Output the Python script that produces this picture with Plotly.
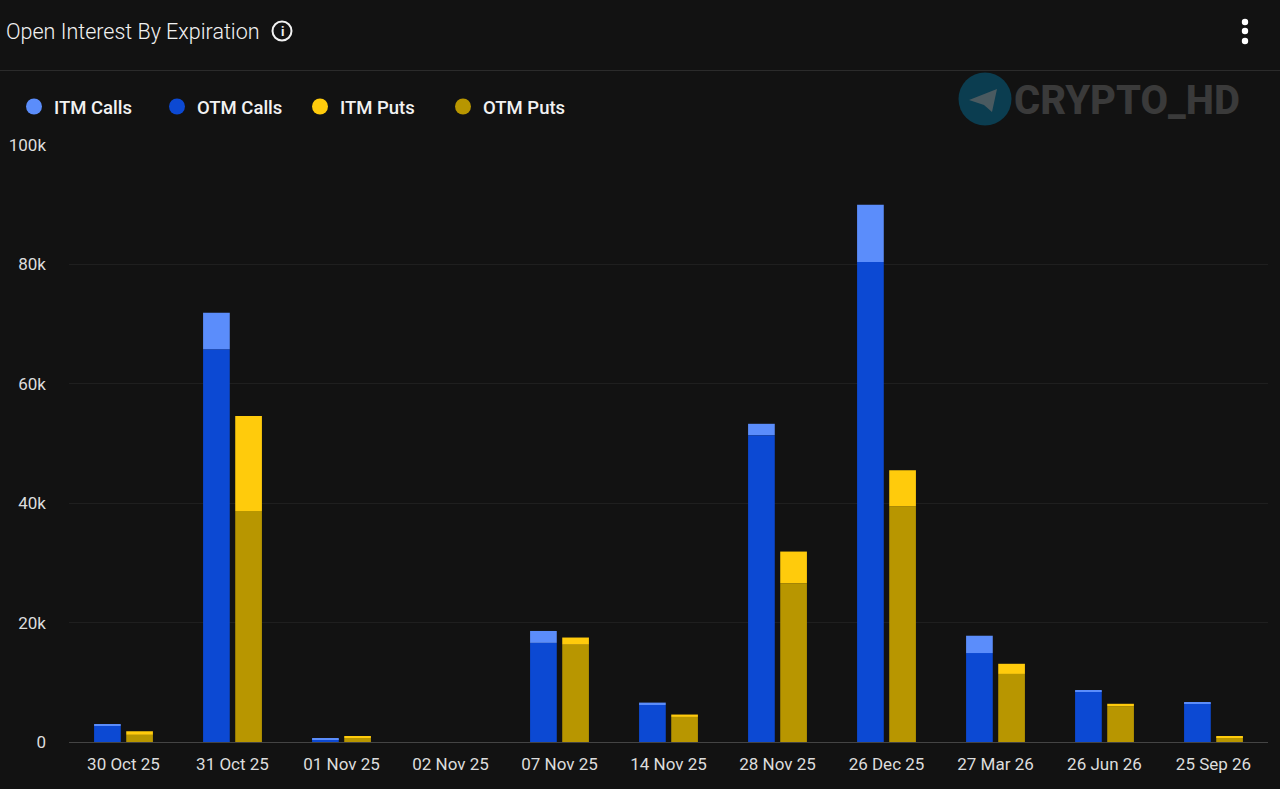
import plotly.graph_objects as go

W, H = 1280, 789
L, R, T, B = 69, 1268, 145, 742

expiries = ["30 Oct 25", "31 Oct 25", "01 Nov 25", "02 Nov 25", "07 Nov 25", "14 Nov 25",
            "28 Nov 25", "26 Dec 25", "27 Mar 26", "26 Jun 26", "25 Sep 26"]
otm_calls = [2700, 65800, 500, 0, 16600, 6200, 51400, 80400, 14900, 8500, 6500]
itm_calls = [300, 6100, 100, 0, 2000, 400, 1900, 9600, 2900, 200, 50]
otm_puts = [1200, 38700, 700, 0, 16300, 4200, 26600, 39500, 11400, 6000, 800]
itm_puts = [600, 15900, 300, 0, 1200, 400, 5300, 6000, 1700, 400, 200]

C_ITM_CALL = "#5b8dfb"
C_OTM_CALL = "#0c49d3"
C_ITM_PUT = "#ffcb0c"
C_OTM_PUT = "#b89600"
BG = "#121212"


# pixel position on the page -> paper coordinates
def px(x):
    return (x - L) / (R - L)


def py(y):
    return (B - y) / (B - T)


def circle(cx, cy, r, **kw):
    return dict(type="circle", xref="paper", yref="paper", x0=px(cx - r), x1=px(cx + r),
                y0=py(cy + r), y1=py(cy - r), **kw)


def label(x, y, text, size, color, weight=400, family="Roboto", anchor="left"):
    return dict(xref="paper", yref="paper", x=px(x), y=py(y), text=text, showarrow=False,
                xanchor=anchor, yanchor="middle",
                font=dict(family=family, size=size, color=color, weight=weight))


fig = go.Figure()

bars = [
    ("OTM Calls", otm_calls, None, "calls", C_OTM_CALL),
    ("ITM Calls", itm_calls, otm_calls, "calls", C_ITM_CALL),
    ("OTM Puts", otm_puts, None, "puts", C_OTM_PUT),
    ("ITM Puts", itm_puts, otm_puts, "puts", C_ITM_PUT),
]
for name, vals, base, group, color in bars:
    fig.add_trace(go.Bar(x=expiries, y=vals, base=base, name=name, offsetgroup=group,
                         legendgroup=name, showlegend=False,
                         marker=dict(color=color, line_width=0)))

# legend entries with round swatches, the bars themselves would give squares
for name, color in [("ITM Calls", C_ITM_CALL), ("OTM Calls", C_OTM_CALL),
                    ("ITM Puts", C_ITM_PUT), ("OTM Puts", C_OTM_PUT)]:
    fig.add_trace(go.Scatter(x=[None], y=[None], mode="markers", name=name, legendgroup=name,
                             marker=dict(color=color, size=19, symbol="circle")))

shapes = [
    dict(type="line", xref="paper", yref="paper", x0=px(0), x1=px(W), y0=py(70.5), y1=py(70.5),
         line=dict(color="#2b2b2b", width=1)),
    circle(282, 31, 9.5, line=dict(color="#f2f2f2", width=2)),
    circle(1245, 22, 3.2, fillcolor="#ffffff", line_width=0),
    circle(1245, 31, 3.2, fillcolor="#ffffff", line_width=0),
    circle(1245, 41, 3.2, fillcolor="#ffffff", line_width=0),
    # watermark
    circle(985, 99, 26.5, fillcolor="#0b3d50", line_width=0),
    dict(type="path", xref="paper", yref="paper", fillcolor="#4a5a60", line_width=0,
         path=f"M {px(969)} {py(100)} L {px(997)} {py(89)} L {px(992)} {py(112)} "
              f"L {px(984)} {py(105)} L {px(981)} {py(104)} Z"),
]

annotations = [
    label(4, 31, "Open Interest By Expiration", 21.5, "#f2f2f2", 300),
    label(282, 31, "i", 13, "#f2f2f2", 700, anchor="center"),
    label(1012, 100, "CRYPTO_HD", 40, "#3a3a3a", 800),
]

fig.update_layout(
    width=W, height=H,
    margin=dict(l=L, r=W - R, t=T, b=H - B, autoexpand=False),
    paper_bgcolor=BG, plot_bgcolor=BG,
    font=dict(family="Roboto", color="#e6e6e6", size=16),
    barmode="group", bargap=0.41, bargroupgap=0.17,
    shapes=shapes, annotations=annotations,
    legend=dict(orientation="h", x=px(14), y=py(107), xanchor="left", yanchor="middle",
                font=dict(size=18.5, color="#f2f2f2", weight=500), bgcolor="rgba(0,0,0,0)",
                entrywidth=98, entrywidthmode="pixels"),
    xaxis=dict(type="category", categoryorder="array", categoryarray=expiries, showgrid=False,
               showline=True, linecolor="#444444", linewidth=1, ticks="", zeroline=False,
               tickfont=dict(size=17, color="#dddddd"), ticklabelstandoff=7),
    yaxis=dict(range=[0, 100000], tickvals=[0, 20000, 40000, 60000, 80000, 100000],
               ticktext=["0", "20k", "40k", "60k", "80k", "100k"], showgrid=True,
               gridcolor="#1f1f1f", gridwidth=1, zeroline=False, ticks="",
               tickfont=dict(size=17, color="#dddddd"), ticklabelstandoff=22),
)

fig.write_html("out.html", config=dict(displayModeBar=False),
               post_script="document.body.style.margin='0';document.body.style.background='#121212';")
